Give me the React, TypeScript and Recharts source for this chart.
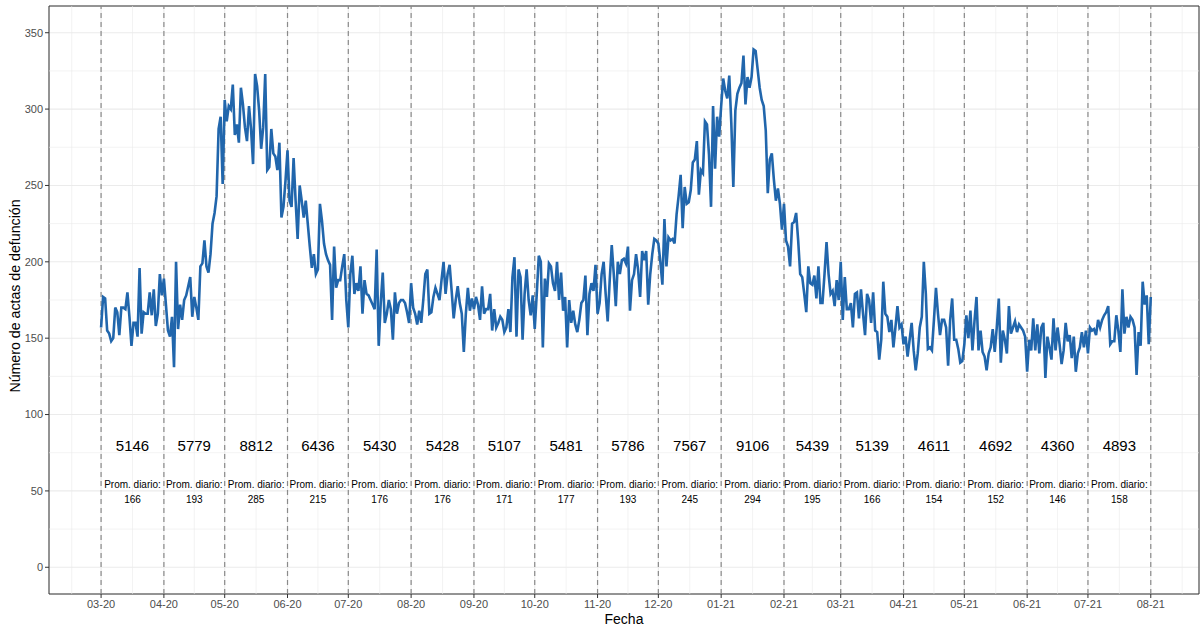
import React from "react";
import {
  ComposedChart,
  Line,
  Scatter,
  XAxis,
  YAxis,
  CartesianGrid,
  ReferenceLine,
  ReferenceArea,
} from "recharts";

// month starts as day offsets from 2020-03-01
const monthLabels = [
  "03-20", "04-20", "05-20", "06-20", "07-20", "08-20", "09-20", "10-20", "11-20",
  "12-20", "01-21", "02-21", "03-21", "04-21", "05-21", "06-21", "07-21", "08-21",
];
const monthStarts = [0, 31, 61, 92, 122, 153, 184, 214, 245, 275, 306, 337, 365, 396, 426, 457, 487, 518];
const prevMonthStart = -29; // 02-20
const nextMonthStart = 549; // 09-21

const monthTotals = [5146, 5779, 8812, 6436, 5430, 5428, 5107, 5481, 5786, 7567, 9106, 5439, 5139, 4611, 4692, 4360, 4893];
const dailyAvg = [166, 193, 285, 215, 176, 176, 171, 177, 193, 245, 294, 195, 166, 154, 152, 146, 158];

const yTicks = [0, 50, 100, 150, 200, 250, 300, 350];
const yMinor = [25, 75, 125, 175, 225, 275, 325];

// daily death certificates, one array per month
const mar20 = [157, 177, 176, 155, 153, 148, 150, 170, 167, 152, 170, 170, 169, 180, 164, 145, 160, 160, 151, 196, 153, 167, 166, 166, 180, 165, 182, 158, 166, 192, 178];
const apr20 = [189, 172, 155, 151, 164, 131, 200, 156, 172, 162, 175, 178, 184, 190, 164, 177, 170, 162, 197, 199, 214, 197, 193, 205, 225, 232, 243, 287, 295, 251];
const may20 = [306, 292, 302, 300, 316, 283, 290, 278, 314, 303, 288, 279, 302, 287, 264, 323, 315, 299, 274, 288, 323, 260, 262, 287, 271, 269, 260, 278, 229, 236, 253];
const jun20 = [273, 240, 236, 268, 240, 215, 250, 240, 229, 240, 225, 210, 196, 205, 192, 195, 238, 227, 212, 205, 201, 198, 162, 210, 183, 188, 188, 197, 205, 175];
const jul20 = [157, 192, 204, 179, 186, 181, 197, 166, 188, 179, 178, 175, 172, 169, 208, 145, 173, 193, 160, 166, 175, 169, 149, 180, 166, 173, 175, 175, 173, 167, 160];
const aug20 = [186, 170, 166, 159, 168, 160, 175, 192, 195, 166, 167, 177, 183, 179, 175, 188, 200, 179, 192, 198, 181, 163, 175, 184, 173, 166, 141, 166, 183, 168, 176];
const sep20 = [169, 177, 172, 162, 184, 166, 169, 169, 179, 155, 169, 157, 160, 164, 162, 154, 157, 169, 154, 190, 203, 151, 195, 190, 149, 179, 195, 175, 165, 178];
const oct20 = [156, 179, 204, 200, 144, 189, 177, 199, 197, 186, 181, 200, 175, 193, 168, 177, 144, 175, 160, 168, 159, 154, 162, 173, 175, 191, 152, 179, 186, 181, 198];
const nov20 = [166, 173, 192, 200, 179, 161, 188, 211, 192, 171, 200, 192, 201, 202, 199, 210, 168, 188, 192, 205, 195, 177, 207, 201, 207, 172, 192, 205, 215, 214];
const dec20 = [212, 200, 185, 228, 197, 216, 214, 215, 212, 231, 243, 257, 222, 249, 238, 239, 247, 265, 267, 279, 244, 260, 258, 292, 290, 270, 236, 302, 261, 295, 282];
const jan21 = [302, 320, 312, 307, 322, 291, 249, 299, 310, 314, 317, 335, 303, 321, 314, 321, 339, 338, 326, 314, 306, 302, 286, 245, 267, 271, 254, 240, 248, 238, 221];
const feb21 = [238, 214, 210, 197, 225, 226, 232, 214, 192, 190, 179, 167, 197, 186, 185, 191, 176, 197, 173, 173, 192, 213, 192, 179, 181, 171, 188, 175];
const mar21 = [200, 162, 190, 169, 169, 173, 157, 179, 180, 163, 182, 166, 152, 179, 175, 160, 180, 155, 154, 136, 149, 187, 166, 164, 154, 162, 144, 157, 171, 157, 159];
const apr21 = [146, 151, 138, 149, 160, 142, 129, 140, 157, 164, 200, 179, 143, 144, 142, 162, 183, 166, 152, 162, 162, 157, 132, 162, 176, 149, 149, 143, 134, 135];
const may21 = [146, 165, 150, 168, 142, 161, 177, 142, 155, 141, 138, 129, 140, 144, 156, 141, 157, 176, 134, 155, 149, 140, 171, 153, 157, 161, 154, 159, 157, 155, 151];
const jun21 = [128, 149, 142, 163, 142, 159, 140, 157, 160, 124, 151, 144, 136, 163, 142, 157, 146, 133, 142, 160, 148, 152, 137, 151, 128, 140, 144, 154, 144, 155];
const jul21 = [140, 157, 155, 156, 152, 162, 157, 162, 165, 167, 171, 146, 148, 148, 165, 155, 141, 182, 153, 164, 157, 164, 162, 157, 126, 154, 145, 187, 172, 178, 146];
const aug21 = [177];

const months = [mar20, apr20, may20, jun20, jul20, aug20, sep20, oct20, nov20, dec20, jan21, feb21, mar21, apr21, may21, jun21, jul21, aug21];

const series = months.flatMap((vals, i) =>
  vals.map((v, j) => ({ day: monthStarts[i] + j, value: v }))
);

const totalsData = monthTotals.map((t, i) => ({
  day: (monthStarts[i] + monthStarts[i + 1]) / 2,
  y: 80,
  label: String(t),
}));
const avgData = dailyAvg.map((a, i) => ({
  day: (monthStarts[i] + monthStarts[i + 1]) / 2,
  y: 49.5,
  label: String(a),
}));

const allStarts = [prevMonthStart, ...monthStarts, nextMonthStart];
const xMinor = allStarts.slice(1).map((s, i) => (s + allStarts[i]) / 2);

const X_DOMAIN: [number, number] = [-25.7, 541.8];
const Y_DOMAIN: [number, number] = [-17.5, 367.5];
const FONT = "'Liberation Sans', Arial, Helvetica, sans-serif";

const TotalLabel = (props: any) => {
  const { cx, cy, payload } = props;
  return (
    <text x={cx} y={cy} textAnchor="middle" dominantBaseline="central" fontSize={15} fill="#000">
      {payload.label}
    </text>
  );
};

const AvgLabel = (props: any) => {
  const { cx, cy, payload } = props;
  return (
    <text textAnchor="middle" fontSize={10} fill="#000">
      <tspan x={cx} y={cy - 7.5} dominantBaseline="central">Prom. diario:</tspan>
      <tspan x={cx} y={cy + 7.5} dominantBaseline="central">{payload.label}</tspan>
    </text>
  );
};

const XTitle = (props: any) => {
  const { viewBox } = props;
  return (
    <text x={viewBox.x + viewBox.width / 2} y={viewBox.y + 25} textAnchor="middle" dominantBaseline="central" fontSize={14} fill="#000">
      Fecha
    </text>
  );
};

const YTitle = (props: any) => {
  const { viewBox } = props;
  const x = 14.5;
  const y = viewBox.y + viewBox.height / 2 - 4;
  return (
    <text x={x} y={y} transform={`rotate(-90 ${x} ${y})`} textAnchor="middle" dominantBaseline="central" fontSize={14.2} fill="#000">
      Número de actas de defunción
    </text>
  );
};

export default function App() {
  return (
    <div style={{ position: "absolute", left: 0, top: 0, width: 1201, height: 626, background: "#fff", overflow: "hidden" }}>
      <ComposedChart
        width={1201}
        height={626}
        margin={{ top: 6, right: 2, bottom: 0, left: 0 }}
        style={{ fontFamily: FONT }}
      >
        <CartesianGrid stroke="#ebebeb" strokeWidth={1.1} />
        {yMinor.map((v) => (
          <ReferenceLine key={"ym" + v} y={v} stroke="#ebebeb" strokeWidth={0.6} />
        ))}
        {xMinor.map((v) => (
          <ReferenceLine key={"xm" + v} x={v} stroke="#ebebeb" strokeWidth={0.6} />
        ))}
        <XAxis
          type="number"
          dataKey="day"
          domain={X_DOMAIN}
          allowDataOverflow
          ticks={monthStarts}
          interval={0}
          tickFormatter={(v: number) => monthLabels[monthStarts.indexOf(v)]}
          axisLine={false}
          tickSize={4}
          tickLine={{ stroke: "#333333" }}
          tick={{ fill: "#4d4d4d", fontSize: 11 }}
          height={32}
          label={<XTitle />}
        />
        <YAxis
          type="number"
          domain={Y_DOMAIN}
          allowDataOverflow
          ticks={yTicks}
          interval={0}
          axisLine={false}
          tickSize={4}
          tickLine={{ stroke: "#333333" }}
          tick={{ fill: "#4d4d4d", fontSize: 11 }}
          width={49}
          label={<YTitle />}
        />
        {monthStarts.map((s) => (
          <ReferenceLine key={"ms" + s} x={s} stroke="#8a8a8a" strokeWidth={1.2} strokeDasharray="5 4" />
        ))}
        <Line
          data={series}
          dataKey="value"
          type="linear"
          stroke="#2166ac"
          strokeWidth={2.6}
          dot={false}
          activeDot={false}
          isAnimationActive={false}
        />
        <Scatter data={totalsData} dataKey="y" shape={<TotalLabel />} isAnimationActive={false} />
        <Scatter data={avgData} dataKey="y" shape={<AvgLabel />} isAnimationActive={false} />
        <ReferenceArea
          x1={X_DOMAIN[0]}
          x2={X_DOMAIN[1]}
          y1={Y_DOMAIN[0]}
          y2={Y_DOMAIN[1]}
          fill="none"
          stroke="#333333"
          strokeWidth={1}
          ifOverflow="visible"
        />
      </ComposedChart>
    </div>
  );
}
